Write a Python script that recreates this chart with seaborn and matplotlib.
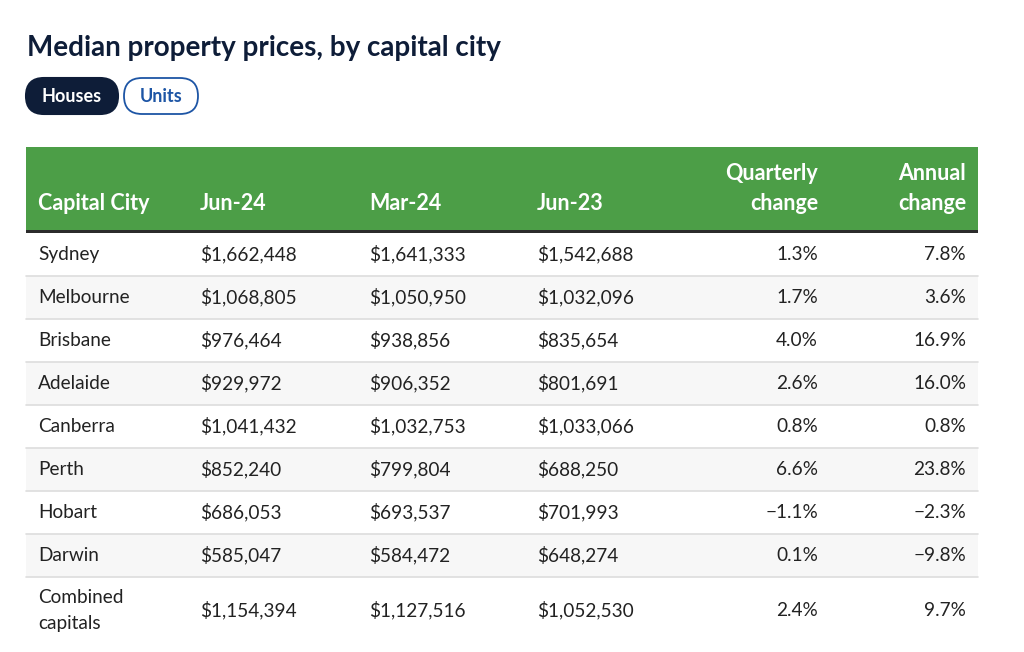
import matplotlib
matplotlib.use("Agg")
import matplotlib.pyplot as plt
from matplotlib.patches import FancyBboxPatch, Rectangle
import seaborn as sns

# table data
title = "Median property prices, by capital city"
tabs = ["Houses", "Units"]
columns = ["Capital City", "Jun-24", "Mar-24", "Jun-23", "Quarterly\nchange", "Annual\nchange"]
cities = ["Sydney", "Melbourne", "Brisbane", "Adelaide", "Canberra", "Perth",
          "Hobart", "Darwin", "Combined\ncapitals"]
jun24 = [1662448, 1068805, 976464, 929972, 1041432, 852240, 686053, 585047, 1154394]
mar24 = [1641333, 1050950, 938856, 906352, 1032753, 799804, 693537, 584472, 1127516]
jun23 = [1542688, 1032096, 835654, 801691, 1033066, 688250, 701993, 648274, 1052530]
quarterly = [1.3, 1.7, 4.0, 2.6, 0.8, 6.6, -1.1, 0.1, 2.4]
annual = [7.8, 3.6, 16.9, 16.0, 0.8, 23.8, -2.3, -9.8, 9.7]

sns.set_theme(style="white")
plt.rcParams['font.family'] = ['Lato', 'DejaVu Sans']

navy = "#0e1d38"
green = "#4c9e47"
blue = "#1d55a5"
text_c = "#222222"

fig = plt.figure(figsize=(10.24, 6.52), dpi=100)
ax = fig.add_axes([0, 0, 1, 1])
ax.set_xlim(0, 1024)
ax.set_ylim(652, 0)
ax.axis("off")


def multiline(x, y_last, s, step, **kw):
    # draw lines of s upward so that the last line sits at y_last
    lines = s.split("\n")
    for k, line in enumerate(lines):
        ax.text(x, y_last - step * (len(lines) - 1 - k), line, **kw)


# title
ax.text(27, 45.5, title, fontsize=20, fontweight="bold", color=navy, va="center_baseline", ha="left")

# tab buttons
ax.add_patch(FancyBboxPatch((26, 78), 92, 36, boxstyle="round,pad=0,rounding_size=18",
                            fc=navy, ec=navy, lw=1.5))
ax.text(72, 95, tabs[0], fontsize=13, fontweight="bold", color="white", ha="center", va="center_baseline")
ax.add_patch(FancyBboxPatch((124, 78), 74, 36, boxstyle="round,pad=0,rounding_size=18",
                            fc="white", ec=blue, lw=1.3))
ax.text(161, 95, tabs[1], fontsize=13, fontweight="bold", color=blue, ha="center", va="center_baseline")

# header
left, right = 26, 978
ax.add_patch(Rectangle((left, 147), right - left, 84, fc=green, ec="none"))
ax.add_patch(Rectangle((left, 230), right - left, 3, fc="#2b2b2b", ec="none"))

col_x = [38, 200, 369, 537, 818, 966]
col_ha = ["left", "left", "left", "left", "right", "right"]
for name, x, ha in zip(columns, col_x, col_ha):
    multiline(x, 202, name, 30, fontsize=15.5, fontweight="bold", color="white",
              ha=ha, va="center_baseline")

# body rows
row_top = 233
row_h = 43


def money(v):
    return "${:,}".format(v)


def pct(v):
    return ("\u2212" if v < 0 else "") + "{:.1f}%".format(abs(v))


for i, city in enumerate(cities):
    h = 67 if "\n" in city else row_h
    if i % 2 == 1:
        ax.add_patch(Rectangle((left, row_top), right - left, h, fc="#f7f7f7", ec="none"))
    if i < len(cities) - 1:
        ax.plot([left, right], [row_top + h, row_top + h], color="#dddddd", lw=1.2)
    cy = row_top + h / 2 - 1.5

    vals = [city, money(jun24[i]), money(mar24[i]), money(jun23[i]), pct(quarterly[i]), pct(annual[i])]
    for v, x, ha in zip(vals, col_x, col_ha):
        if "\n" in v:
            multiline(x, cy + 13, v, 26, fontsize=13.7, color=text_c, ha=ha, va="center_baseline")
        else:
            ax.text(x, cy, v, fontsize=13.7, color=text_c, ha=ha, va="center_baseline")
    row_top += h

fig.savefig("out.png", dpi=100, facecolor="white")
